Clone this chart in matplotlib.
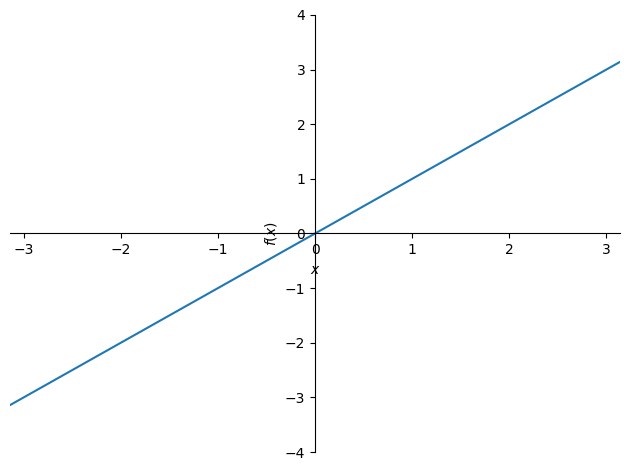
import matplotlib
matplotlib.use("Agg")
import matplotlib.pyplot as plt

x_vals = [-3.14159, 3.14159]
y_vals = [-3.14159, 3.14159]
x_limits = [-3.14159, 3.14159]
y_limits = [-4, 4]

fig = plt.figure(figsize=(6.3, 4.7), dpi=100)
ax = fig.add_axes([10/630, 1 - 452/470, 610/630, 437/470])
ax.plot(x_vals, y_vals, color="#1f77b4")
ax.set_xlim(x_limits)
ax.set_ylim(y_limits)
ax.spines["left"].set_position("zero")
ax.spines["bottom"].set_position("zero")
ax.spines["right"].set_visible(False)
ax.spines["top"].set_visible(False)
ax.set_xlabel("$x$")
ax.set_ylabel("$f(x)$")
fig.savefig("out.png", dpi=100)
